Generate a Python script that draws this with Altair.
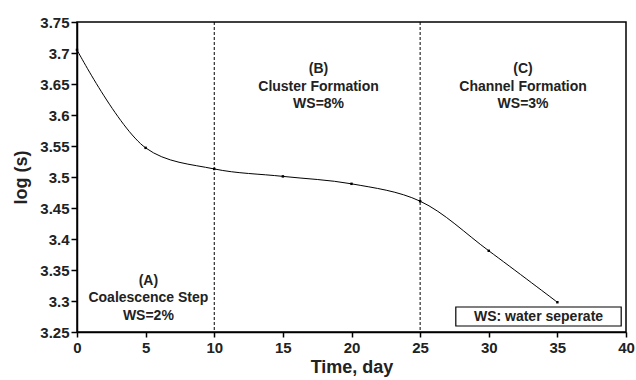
import altair as alt
import pandas as pd

days = [0, 5, 10, 15, 20, 25, 30, 35]
log_s = [3.705, 3.547, 3.513, 3.501, 3.489, 3.461, 3.381, 3.298]

boundaries = [10, 25]

ann_x = [5.2, 17.6, 32.5]
ann_y = [3.333, 3.674, 3.674]
ann_text = [["(A)", "Coalescence Step", "WS=2%"],
            ["(B)", "Cluster Formation", "WS=8%"],
            ["(C)", "Channel Formation", "WS=3%"]]

legend_text = ["WS: water seperate"]
legend_x = [27.6]
legend_x2 = [39.65]
legend_y = [3.2903]
legend_y2 = [3.2597]

x_ticks = [0, 5, 10, 15, 20, 25, 30, 35, 40]
y_ticks = [3.25, 3.3, 3.35, 3.4, 3.45, 3.5, 3.55, 3.6, 3.65, 3.7, 3.75]

FONT = "Liberation Sans"

df = pd.DataFrame({"day": days, "log": log_s})
bd = pd.DataFrame({"day": boundaries})
ann = pd.DataFrame({"x": ann_x, "y": ann_y, "t": ann_text})
leg = pd.DataFrame({"x": legend_x, "x2": legend_x2, "y": legend_y, "y2": legend_y2,
                    "t": legend_text})

xscale = alt.Scale(domain=[0, 40], nice=False, zero=False)
yscale = alt.Scale(domain=[3.25, 3.75], nice=False, zero=False)

xaxis = alt.Axis(values=x_ticks, grid=False, tickSize=5,
                 labelFont=FONT, labelFontSize=15, labelFontWeight="bold", labelColor="#222",
                 title="Time, day", titleFont=FONT, titleFontSize=18, titleFontWeight="bold",
                 titleColor="#222", domainColor="black", domainWidth=1.5, tickColor="black",
                 tickWidth=1.5, labelPadding=3, titlePadding=3, labelFlush=False,
                 labelOverlap=False)
yaxis = alt.Axis(values=y_ticks, format=".2~f", grid=False, tickSize=6,
                 labelFont=FONT, labelFontSize=15, labelFontWeight="bold", labelColor="#222",
                 title="log (s)", titleFont=FONT, titleFontSize=18, titleFontWeight="bold",
                 titleColor="#222", domainColor="black", domainWidth=1.5, tickColor="black",
                 tickWidth=1.5, labelPadding=2, titlePadding=9, labelOverlap=False,
                 labelFlush=False)

X = lambda f: alt.X(f, type="quantitative", scale=xscale, axis=xaxis)
Y = lambda f: alt.Y(f, type="quantitative", scale=yscale, axis=yaxis)

line = alt.Chart(df).mark_line(color="black", strokeWidth=1, interpolate="catmull-rom").encode(
    x=X("day"), y=Y("log"),
)
pts = alt.Chart(df).mark_square(color="black", size=6, opacity=1).encode(
    x=X("day"), y=Y("log")
)
rules = alt.Chart(bd).mark_rule(color="black", strokeWidth=1, strokeDash=[3, 2]).encode(
    x=X("day")
)
texts = alt.Chart(ann).mark_text(font=FONT, fontSize=14, fontWeight="bold", color="#222",
                                 lineHeight=17.5, align="center", baseline="middle").encode(
    x=X("x"), y=Y("y"), text="t"
)
box = alt.Chart(leg).mark_rect(fill="white", stroke="black", strokeWidth=1.2).encode(
    x=X("x"), x2="x2", y=Y("y"), y2="y2"
)
legtext = alt.Chart(leg).transform_calculate(xm="(datum.x + datum.x2) / 2",
                                             ym="(datum.y + datum.y2) / 2").mark_text(
    font=FONT, fontSize=14, fontWeight="bold", color="#222", align="center", baseline="middle"
).encode(x=X("xm"), y=Y("ym"), text="t")

chart = alt.layer(line, rules, pts, texts, box, legtext).properties(
    width=549, height=310,
    autosize=alt.AutoSizeParams(type="none"),
    padding={"left": 77, "top": 22, "right": 10, "bottom": 48},
    background="white",
).configure_view(stroke="black", strokeWidth=1.5).configure_axis(labelOverlap=False)

chart.save("out.html", embed_options={"renderer": "svg", "actions": False})
